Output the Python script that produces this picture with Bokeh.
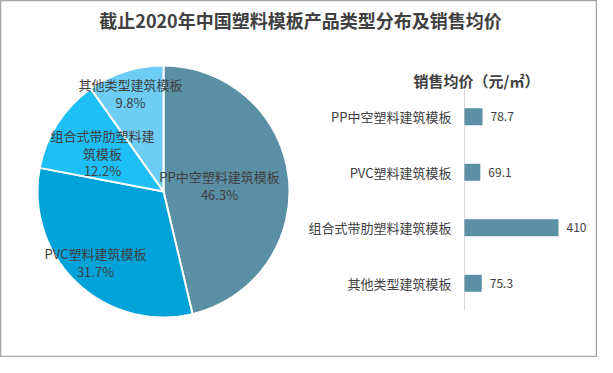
import math
from bokeh.plotting import figure
from bokeh.models import Range1d
from bokeh.core.properties import value
from bokeh.embed import file_html
from bokeh.resources import INLINE

# ---- data ----
title_text = "截止2020年中国塑料模板产品类型分布及销售均价"
pie_labels = ["PP中空塑料建筑模板", "PVC塑料建筑模板", "组合式带肋塑料建筑模板", "其他类型建筑模板"]
pie_shares = [46.3, 31.7, 12.2, 9.8]
pie_colors = ["#5B8FA6", "#00A3D9", "#1EBFF5", "#6DCDF5"]

bar_title = "销售均价（元/㎡）"
bar_categories = ["PP中空塑料建筑模板", "PVC塑料建筑模板", "组合式带肋塑料建筑模板", "其他类型建筑模板"]
bar_values = [78.7, 69.1, 410, 75.3]
bar_value_labels = ["78.7", "69.1", "410", "75.3"]
bar_color = "#5B8FA6"

W, H = 597, 357
FONT = "Noto Sans CJK SC"

def fx(px):
    return px - 8

def fy(py):
    return H - (py - 8)

p = figure(width=W, height=H, output_backend="svg", toolbar_location=None,
           x_range=Range1d(0, W), y_range=Range1d(0, H),
           min_border=0, min_border_left=0, min_border_right=0,
           min_border_top=0, min_border_bottom=0)
p.xaxis.visible = False
p.yaxis.visible = False
p.grid.visible = False
p.outline_line_color = "#A6A6A6"
p.outline_line_width = 1.5
p.background_fill_color = "white"
p.border_fill_color = "white"

# ---- title ----
p.text(x=[fx(308)], y=[fy(27)], text=[title_text], text_align="center",
       text_baseline="middle", text_font=value(FONT), text_font_size="18px",
       text_font_style="bold", text_color="#404040")

# ---- pie ----
cx, cy, r = fx(171), fy(199), 126
total = sum(pie_shares)
starts, ends = [], []
cum = 0.0
for s in pie_shares:
    starts.append(math.pi / 2 - cum / total * 2 * math.pi)
    cum += s
    ends.append(math.pi / 2 - cum / total * 2 * math.pi)
p.wedge(x=[cx] * 4, y=[cy] * 4, radius=r, radius_units="screen",
        start_angle=starts, end_angle=ends, direction="clock",
        fill_color=pie_colors, line_color="white", line_width=2)

# pie labels (name lines + percentage)
label_lines = [
    (["PP中空塑料建筑模板"], 227, 184),
    (["PVC塑料建筑模板"], 103, 261),
    (["组合式带肋塑料建", "筑模板"], 110, 143),
    (["其他类型建筑模板"], 138, 92),
]
for (lines, lx, ly), share in zip(label_lines, pie_shares):
    texts = lines + [f"{share:.1f}%"]
    ys = [fy(ly + 17.5 * k) for k in range(len(texts))]
    p.text(x=[fx(lx)] * len(texts), y=ys, text=texts, text_align="center",
           text_baseline="middle", text_font=value(FONT), text_font_size="13px",
           text_color="#404040")

# ---- bar chart via extra ranges ----
scale = 94 / 410.0
xs = -(472 - 8) / scale
p.extra_x_ranges = {"bar": Range1d(xs, xs + W / scale)}
step = 55.5
y0 = fy(124.3)
p.extra_y_ranges = {"bar": Range1d(y0 / step, (y0 - H) / step)}

idx = list(range(len(bar_categories)))
p.segment(x0=[0], y0=[-0.49], x1=[0], y1=[len(idx) - 0.51], line_color="#D9D9D9",
          line_width=1, x_range_name="bar", y_range_name="bar")
p.hbar(y=idx, left=0, right=bar_values, height=17 / step, fill_color=bar_color,
       line_color=None, x_range_name="bar", y_range_name="bar")
p.text(x=bar_values, y=idx, text=bar_value_labels, x_offset=8, text_align="left",
       text_baseline="middle", text_font=value(FONT), text_font_size="12px",
       text_color="#404040", x_range_name="bar", y_range_name="bar")
p.text(x=[0] * len(idx), y=idx, text=bar_categories, x_offset=-13, text_align="right",
       text_baseline="middle", text_font=value(FONT), text_font_size="13px",
       text_color="#404040", x_range_name="bar", y_range_name="bar")

p.text(x=[fx(484)], y=[fy(88)], text=[bar_title], text_align="center",
       text_baseline="middle", text_font=value(FONT), text_font_size="15px",
       text_font_style="bold", text_color="#404040")

open("out.html", "w").write(file_html(p, INLINE))
